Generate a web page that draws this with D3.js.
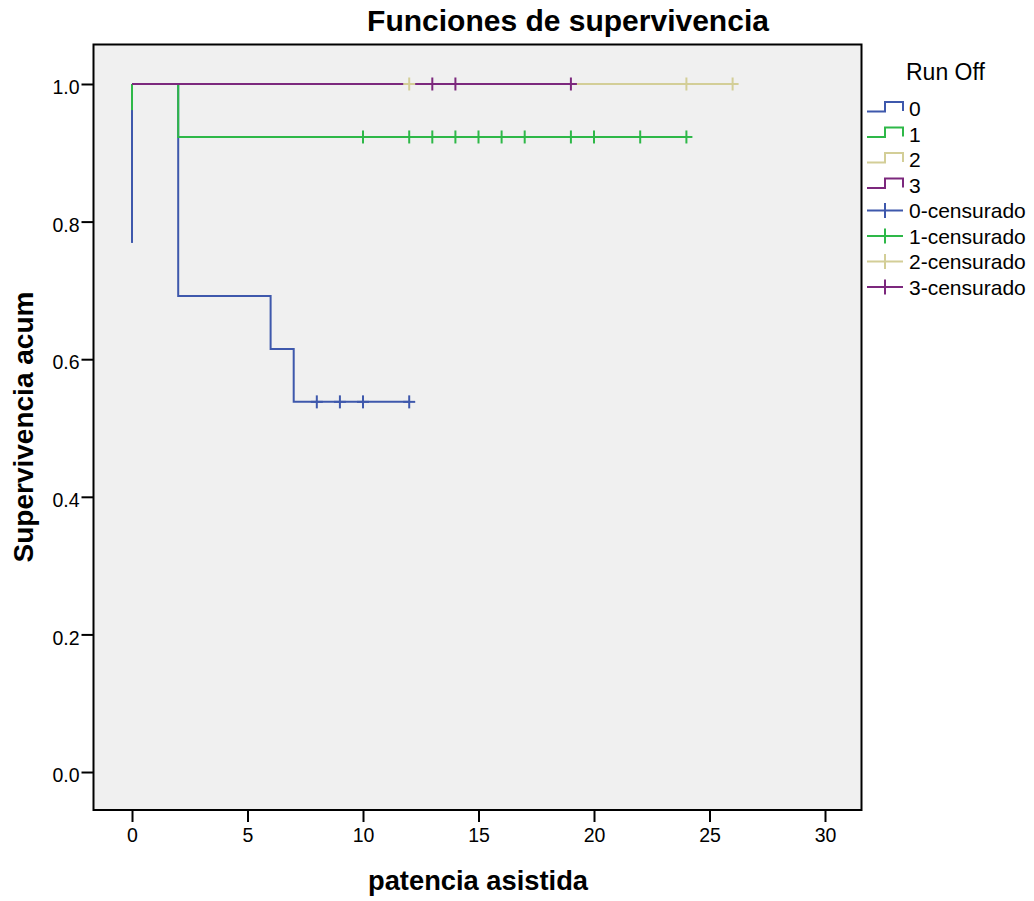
<!DOCTYPE html>
<html><head><meta charset="utf-8">
<script src="https://cdn.jsdelivr.net/npm/d3@7"></script>
<style>html,body{margin:0;padding:0;background:#fff;} svg{display:block;font-family:"Liberation Sans",Arial,sans-serif;}</style>
</head><body>
<script>
// ---- data ----
const groups = ["0", "1", "2", "3"];
const groupColors = ["#3E58AC", "#2EB848", "#D3CE97", "#7C287D"];
const legendLabels = ["0", "1", "2", "3", "0-censurado", "1-censurado", "2-censurado", "3-censurado"];
// step vertices [time, cumulative survival]
const curve0 = [[0, 1], [2, 0.692], [6, 0.615], [7, 0.538], [12, 0.538]];
const curve1 = [[0, 1], [2, 0.923], [24, 0.923]];
const curve2 = [[0, 1], [26, 1]];
const curve3 = [[0, 1], [19, 1]];
// drop drawn at time 0
const spike0 = 0.769;
const spike1 = 0.962;
const spike2 = null;
const spike3 = null;
// censored observations
const censor0 = [[8, 0.538], [9, 0.538], [10, 0.538], [12, 0.538]];
const censor1 = [[10, 0.923], [12, 0.923], [13, 0.923], [14, 0.923], [15, 0.923], [16, 0.923], [17, 0.923], [19, 0.923], [20, 0.923], [22, 0.923], [24, 0.923]];
const censor2 = [[12, 1], [24, 1], [26, 1]];
const censor3 = [[13, 1], [14, 1], [19, 1]];
const xTicks = [0, 5, 10, 15, 20, 25, 30];
const yTicks = [0, 0.2, 0.4, 0.6, 0.8, 1.0];

const curves = [curve0, curve1, curve2, curve3];
const spikes = [spike0, spike1, spike2, spike3];
const censors = [censor0, censor1, censor2, censor3];

// ---- layout ----
const W = 1034, H = 901;
const L = 93.5, R = 861.5, T = 44.5, B = 810;
const x = d3.scaleLinear().domain([-1.667, 31.58]).range([L, R]);
const y = d3.scaleLinear().domain([-0.0552, 1.0574]).range([B, T]);

const svg = d3.select("body").append("svg").attr("width", W).attr("height", H);

svg.append("rect").attr("x", L).attr("y", T).attr("width", R - L).attr("height", B - T)
  .attr("fill", "#F0F0F0");

// axes
const xAxis = d3.axisBottom(x).tickValues(xTicks).tickSize(12).tickPadding(6).tickFormat(d3.format("d"));
const gx = svg.append("g").attr("transform", `translate(0,${B})`).call(xAxis);
gx.select(".domain").remove();
gx.selectAll(".tick line").attr("stroke", "#000").attr("stroke-width", 2);
gx.selectAll(".tick text").attr("font-size", 19.5).attr("fill", "#000").attr("font-family", "Liberation Sans, Arial, sans-serif");

const yAxis = d3.axisLeft(y).tickValues(yTicks).tickSize(12).tickPadding(2).tickFormat(d3.format(".1f"));
const gy = svg.append("g").attr("transform", `translate(${L},0)`).call(yAxis);
gy.select(".domain").remove();
gy.selectAll(".tick line").attr("stroke", "#000").attr("stroke-width", 2);
gy.selectAll(".tick text").attr("font-size", 19.5).attr("fill", "#000").attr("dy", "0.5em").attr("font-family", "Liberation Sans, Arial, sans-serif");

// curves
const line = d3.line().x(d => x(d[0])).y(d => y(d[1])).curve(d3.curveStepAfter);
curves.forEach((c, i) => {
  svg.append("path").attr("d", line(c)).attr("fill", "none")
    .attr("stroke", groupColors[i]).attr("stroke-width", 2);
  if (spikes[i] != null) {
    svg.append("line").attr("x1", x(0)).attr("x2", x(0)).attr("y1", y(1)).attr("y2", y(spikes[i]))
      .attr("stroke", groupColors[i]).attr("stroke-width", 2);
  }
});
// censor marks
censors.forEach((c, i) => {
  const g = svg.append("g").attr("stroke", groupColors[i]).attr("stroke-width", 2);
  c.forEach(d => {
    g.append("line").attr("x1", x(d[0]) - 6).attr("x2", x(d[0]) + 6).attr("y1", y(d[1])).attr("y2", y(d[1]));
    g.append("line").attr("x1", x(d[0])).attr("x2", x(d[0])).attr("y1", y(d[1]) - 6.5).attr("y2", y(d[1]) + 6.5);
  });
});

// frame
svg.append("rect").attr("x", L).attr("y", T).attr("width", R - L).attr("height", B - T)
  .attr("fill", "none").attr("stroke", "#000").attr("stroke-width", 2);

// titles
svg.append("text").attr("x", 568).attr("y", 31).attr("text-anchor", "middle")
  .attr("font-size", 30).attr("font-weight", "bold").text("Funciones de supervivencia");
svg.append("text").attr("x", 478).attr("y", 890).attr("text-anchor", "middle")
  .attr("font-size", 27.3).attr("font-weight", "bold").text("patencia asistida");
svg.append("text").attr("transform", "translate(33,427) rotate(-90)").attr("text-anchor", "middle")
  .attr("font-size", 28).attr("font-weight", "bold").text("Supervivencia acum");

// legend
const lg = svg.append("g");
lg.append("text").attr("x", 906).attr("y", 80).attr("font-size", 23).text("Run Off");
legendLabels.forEach((lab, i) => {
  const base = 116 + i * 25.5;
  const col = groupColors[i % 4];
  if (i < 4) {
    lg.append("path").attr("d", `M867,${base - 4.5}H885V${base - 14}H903V${base - 5}`)
      .attr("fill", "none").attr("stroke", col).attr("stroke-width", 2);
  } else {
    lg.append("line").attr("x1", 867).attr("x2", 903).attr("y1", base - 7.5).attr("y2", base - 7.5)
      .attr("stroke", col).attr("stroke-width", 2);
    lg.append("line").attr("x1", 885).attr("x2", 885).attr("y1", base - 15).attr("y2", base)
      .attr("stroke", col).attr("stroke-width", 2);
  }
  lg.append("text").attr("x", 909).attr("y", base).attr("font-size", 21).text(lab);
});
</script>
</body></html>
